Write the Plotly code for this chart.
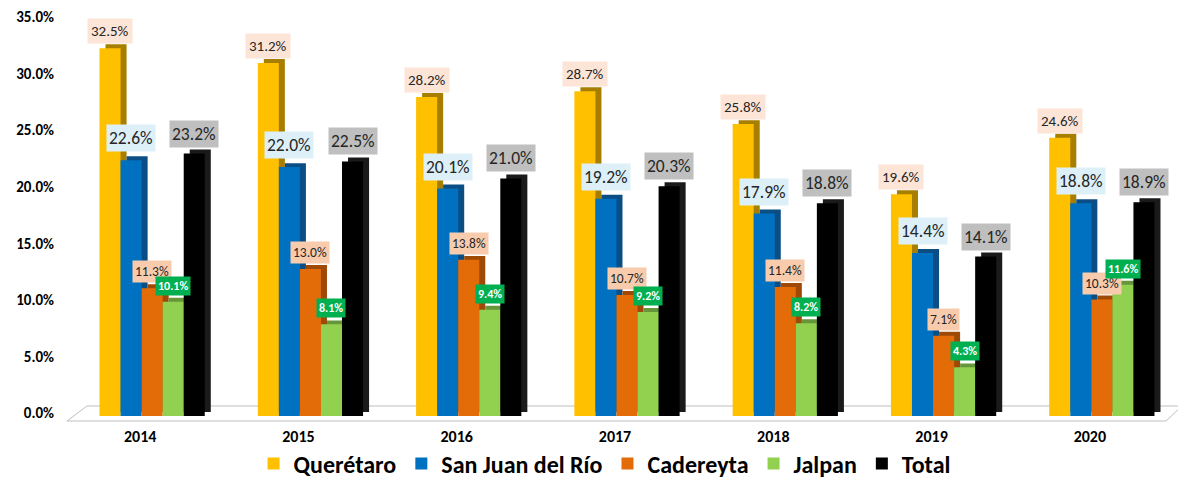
import plotly.graph_objects as go

years = ["2014", "2015", "2016", "2017", "2018", "2019", "2020"]
series_names = ["Querétaro", "San Juan del Río", "Cadereyta", "Jalpan", "Total"]
queretaro = [32.5, 31.2, 28.2, 28.7, 25.8, 19.6, 24.6]
san_juan = [22.6, 22.0, 20.1, 19.2, 17.9, 14.4, 18.8]
cadereyta = [11.3, 13.0, 13.8, 10.7, 11.4, 7.1, 10.3]
jalpan = [10.1, 8.1, 9.4, 9.2, 8.2, 4.3, 11.6]
total = [23.2, 22.5, 21.0, 20.3, 18.8, 14.1, 18.9]
y_ticks = [0, 5, 10, 15, 20, 25, 30, 35]

values = [queretaro, san_juan, cadereyta, jalpan, total]
front_colors = ["#FFC000", "#0070C0", "#E36C09", "#92D050", "#000000"]
side_colors = ["#A77E00", "#0B4E86", "#9E4A06", "#66963A", "#1A1A1A"]
label_bg = ["#FCE4D6", "#DDEFF7", "#F8CBAD", "#00B050", "#BFBFBF"]
label_fc = ["#262626", "#262626", "#262626", "#FFFFFF", "#262626"]
label_size = [15, 17.5, 13.5, 12, 17.5]
label_pad = [3, 2, 2, 2, 2]
label_bold = [False, False, False, True, False]
label_shift = [0, 4, 1, 2, 2]

FONT = "Calibri, Carlito, Lato, sans-serif"
W = 0.133
START = -0.3325
DX = 0.038   # depth shift (right)
DY = 0.35    # depth shift (up), in %

xi = list(range(len(years)))
fig = go.Figure()
for j, (name, vals) in enumerate(zip(series_names, values)):
    off = START + j * W
    # side/depth face
    fig.add_trace(go.Bar(
        x=xi, y=vals, base=[DY] * len(vals), width=W, offset=off + DX,
        marker=dict(color=side_colors[j], line=dict(width=0)),
        showlegend=False, hoverinfo="skip"))
    # front face
    fig.add_trace(go.Bar(
        x=xi, y=vals, width=W, offset=off, name=name,
        marker=dict(color=front_colors[j], line=dict(width=0))))
    for i, v in enumerate(vals):
        txt = f"{v:.1f}%"
        if label_bold[j]:
            txt = f"<b>{txt}</b>"
        fig.add_annotation(
            x=i + off + W / 2, y=v + DY, xref="x", yref="y",
            text=txt, showarrow=False, yanchor="bottom", yshift=label_shift[j],
            bgcolor=label_bg[j], borderpad=label_pad[j],
            font=dict(family=FONT, size=label_size[j], color=label_fc[j]))

# floor (3D base plane)
SHIFT = 8
L, T, R, B = 73 - SHIFT, 12, 5 + SHIFT, 71
PW, PH = 1186 - L - R, 479 - T - B
def px(x): return (x - SHIFT - L) / PW
def py(y): return (479 - B - y) / PH
path = (f"M {px(67)},{py(413)} L {px(1166)},{py(413)} L {px(1182)},{py(398)} "
        f"L {px(87)},{py(398)} Z")
fig.add_shape(type="path", path=path, xref="paper", yref="paper",
              line=dict(color="#BFBFBF", width=1), fillcolor="rgba(0,0,0,0)", layer="below")

fig.update_layout(
    width=1186, height=479,
    margin=dict(l=L, r=R, t=T, b=B, autoexpand=False),
    barmode="overlay",
    plot_bgcolor="white", paper_bgcolor="white",
    font=dict(family=FONT, color="#000000"),
    legend=dict(orientation="h", xref="container", x=0.503, xanchor="center",
                yref="container", y=0.048, yanchor="middle",
                font=dict(family=FONT, size=24, color="#000000", weight="bold"),
                itemwidth=30, tracegroupgap=0),
    xaxis=dict(tickmode="array", tickvals=xi, ticktext=years, range=[-0.5, 6.5],
               showgrid=False, zeroline=False, showline=False, ticks="",
               automargin=False,
               tickfont=dict(family=FONT, size=16, color="#000000", weight="bold"),
               ticklabelshift=-12, ticklabelstandoff=9),
    yaxis=dict(range=[0, 35], tickvals=y_ticks,
               ticktext=[f"{t:.1f}%" for t in y_ticks],
               showgrid=False, zeroline=False, showline=False, ticks="",
               automargin=False,
               tickfont=dict(family=FONT, size=15, color="#000000", weight="bold"),
               ticklabelstandoff=18, ticklabelshift=-3),
)

fig.write_html("out.html")
